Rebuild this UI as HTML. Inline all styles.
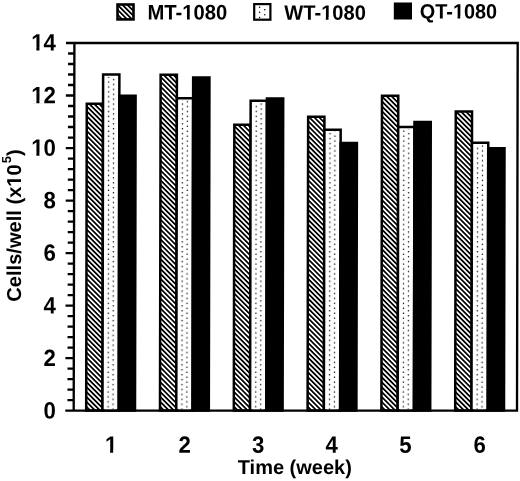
<!DOCTYPE html>
<html><head><meta charset="utf-8"><title>Cells/well chart</title>
<style>
html,body{margin:0;padding:0;background:#fff;}
body{width:520px;height:481px;overflow:hidden;}
svg{display:block;}
text{font-family:"Liberation Sans",Arial,Helvetica,sans-serif;font-weight:bold;fill:#000;text-rendering:geometricPrecision;}
.c{fill:#fff;}
</style></head><body>
<svg width="520" height="481" viewBox="0 0 520 481">
<defs>
<pattern id="hatch" patternUnits="userSpaceOnUse" width="20" height="3.4790" patternTransform="translate(0 4.15) rotate(45)">
<rect x="0" y="0" width="20" height="3.4790" fill="#fff"/>
<rect x="0" y="0" width="20" height="1.7395" fill="#000"/>
</pattern>
<pattern id="dots" patternUnits="userSpaceOnUse" width="9.840" height="4.920" x="105.640" y="203.770">
<rect x="0" y="0" width="9.840" height="4.920" fill="#fff"/>
<circle cx="2.460" cy="1.230" r="0.75" fill="#000"/>
<circle cx="7.380" cy="3.690" r="0.75" fill="#000"/>
</pattern>
</defs>
<rect x="0" y="0" width="520" height="481" fill="#fff"/>
<g transform="matrix(1 0 -0.0019 1 0.78 0)">
<rect x="86.20" y="103.69" width="16.27" height="306.91" fill="url(#hatch)" stroke="#000" stroke-width="2.5"/>
<rect x="102.47" y="74.51" width="16.27" height="336.09" fill="#fff" stroke="#000" stroke-width="2.5"/>
<rect x="105.07" y="76.71" width="11.07" height="332.69" fill="url(#dots)"/>
<rect x="118.73" y="95.81" width="16.27" height="314.79" fill="#000" stroke="#000" stroke-width="2.5"/>
<rect x="160.00" y="74.81" width="16.27" height="335.79" fill="url(#hatch)" stroke="#000" stroke-width="2.5"/>
<rect x="176.27" y="98.14" width="16.27" height="312.46" fill="#fff" stroke="#000" stroke-width="2.5"/>
<rect x="178.87" y="100.34" width="11.07" height="309.06" fill="url(#dots)"/>
<rect x="192.53" y="77.43" width="16.27" height="333.17" fill="#000" stroke="#000" stroke-width="2.5"/>
<rect x="233.80" y="124.70" width="16.27" height="285.90" fill="url(#hatch)" stroke="#000" stroke-width="2.5"/>
<rect x="250.07" y="100.77" width="16.27" height="309.83" fill="#fff" stroke="#000" stroke-width="2.5"/>
<rect x="252.67" y="102.97" width="11.07" height="306.43" fill="url(#dots)"/>
<rect x="266.33" y="98.44" width="16.27" height="312.16" fill="#000" stroke="#000" stroke-width="2.5"/>
<rect x="307.60" y="116.82" width="16.27" height="293.78" fill="url(#hatch)" stroke="#000" stroke-width="2.5"/>
<rect x="323.87" y="129.65" width="16.27" height="280.95" fill="#fff" stroke="#000" stroke-width="2.5"/>
<rect x="326.47" y="131.85" width="11.07" height="277.55" fill="url(#dots)"/>
<rect x="340.13" y="143.08" width="16.27" height="267.52" fill="#000" stroke="#000" stroke-width="2.5"/>
<rect x="381.40" y="95.81" width="16.27" height="314.79" fill="url(#hatch)" stroke="#000" stroke-width="2.5"/>
<rect x="397.67" y="127.02" width="16.27" height="283.58" fill="#fff" stroke="#000" stroke-width="2.5"/>
<rect x="400.27" y="129.22" width="11.07" height="280.18" fill="url(#dots)"/>
<rect x="413.93" y="122.07" width="16.27" height="288.53" fill="#000" stroke="#000" stroke-width="2.5"/>
<rect x="455.20" y="111.57" width="16.27" height="299.03" fill="url(#hatch)" stroke="#000" stroke-width="2.5"/>
<rect x="471.47" y="142.78" width="16.27" height="267.82" fill="#fff" stroke="#000" stroke-width="2.5"/>
<rect x="474.07" y="144.98" width="11.07" height="264.42" fill="url(#dots)"/>
<rect x="487.73" y="148.33" width="16.27" height="262.27" fill="#000" stroke="#000" stroke-width="2.5"/>
<path d="M65.3 43.0 H517.0 V410.6 H65.3 M73.7 43.0 V410.6" fill="none" stroke="#000" stroke-width="2.35"/>
<path d="M67.4 400.10H73.7 M67.4 389.59H73.7 M67.4 379.09H73.7 M67.4 368.59H73.7 M65.3 358.09H73.7 M67.4 347.58H73.7 M67.4 337.08H73.7 M67.4 326.58H73.7 M67.4 316.07H73.7 M65.3 305.57H73.7 M67.4 295.07H73.7 M67.4 284.57H73.7 M67.4 274.06H73.7 M67.4 263.56H73.7 M65.3 253.06H73.7 M67.4 242.55H73.7 M67.4 232.05H73.7 M67.4 221.55H73.7 M67.4 211.05H73.7 M65.3 200.54H73.7 M67.4 190.04H73.7 M67.4 179.54H73.7 M67.4 169.03H73.7 M67.4 158.53H73.7 M65.3 148.03H73.7 M67.4 137.53H73.7 M67.4 127.02H73.7 M67.4 116.52H73.7 M67.4 106.02H73.7 M65.3 95.51H73.7 M67.4 85.01H73.7 M67.4 74.51H73.7 M67.4 64.01H73.7 M67.4 53.50H73.7" fill="none" stroke="#000" stroke-width="2.3"/>
</g>
<rect x="117.5" y="4.5" width="16" height="14.9" fill="url(#hatch)" stroke="#000" stroke-width="2.6"/>
<rect x="254.2" y="4.1" width="16.2" height="15.6" fill="#fff" stroke="#000" stroke-width="2.2"/>
<g fill="#000"><circle cx="259.6" cy="7.3" r="0.75"/><circle cx="264.8" cy="9.85" r="0.75"/><circle cx="259.6" cy="12.3" r="0.75"/><circle cx="264.8" cy="14.8" r="0.75"/><circle cx="259.6" cy="17.4" r="0.75"/></g>
<rect x="393.8" y="2.5" width="18.2" height="17" fill="#000"/>
<g transform="translate(55.9 418.52) rotate(0.03) scale(0.945 1)"><text font-size="23.5" text-anchor="end">0</text></g>
<g transform="translate(55.9 365.96) rotate(0.03) scale(0.945 1)"><text font-size="23.5" text-anchor="end">2</text></g>
<g transform="translate(55.9 313.40) rotate(0.03) scale(0.945 1)"><text font-size="23.5" text-anchor="end">4</text></g>
<g transform="translate(55.9 260.84) rotate(0.03) scale(0.945 1)"><text font-size="23.5" text-anchor="end">6</text></g>
<g transform="translate(55.9 208.28) rotate(0.03) scale(0.945 1)"><text font-size="23.5" text-anchor="end">8</text></g>
<g transform="translate(55.9 155.72) rotate(0.03) scale(0.945 1)"><text font-size="23.5" text-anchor="end">10</text><rect class="c" x="-25.26" y="-3.00" width="4.60" height="3.60"/><rect class="c" x="-17.43" y="-3.00" width="4.31" height="3.60"/></g>
<g transform="translate(55.9 103.16) rotate(0.03) scale(0.945 1)"><text font-size="23.5" text-anchor="end">12</text><rect class="c" x="-25.26" y="-3.00" width="4.60" height="3.60"/><rect class="c" x="-17.43" y="-3.00" width="4.31" height="3.60"/></g>
<g transform="translate(55.9 50.60) rotate(0.03) scale(0.945 1)"><text font-size="23.5" text-anchor="end">14</text><rect class="c" x="-25.26" y="-3.00" width="4.60" height="3.60"/><rect class="c" x="-17.43" y="-3.00" width="4.31" height="3.60"/></g>
<g transform="translate(111.10 452.8) rotate(0.03) scale(0.945 1)"><text font-size="23.5" text-anchor="middle">1</text><rect class="c" x="-5.66" y="-3.00" width="4.60" height="3.60"/><rect class="c" x="2.17" y="-3.00" width="4.31" height="3.60"/></g>
<g transform="translate(184.60 452.8) rotate(0.03) scale(0.945 1)"><text font-size="23.5" text-anchor="middle">2</text></g>
<g transform="translate(258.10 452.8) rotate(0.03) scale(0.945 1)"><text font-size="23.5" text-anchor="middle">3</text></g>
<g transform="translate(331.60 452.8) rotate(0.03) scale(0.945 1)"><text font-size="23.5" text-anchor="middle">4</text></g>
<g transform="translate(405.40 452.8) rotate(0.03) scale(0.945 1)"><text font-size="23.5" text-anchor="middle">5</text></g>
<g transform="translate(479.60 452.8) rotate(0.03) scale(0.945 1)"><text font-size="23.5" text-anchor="middle">6</text></g>
<g transform="translate(294.8 473.7)"><text font-size="20" text-anchor="middle">Time (week)</text></g>
<g transform="translate(21 225.5) rotate(-90)"><text font-size="20.1" text-anchor="middle">Cells/well (x10<tspan font-size="13" dx="1" dy="-10">5</tspan><tspan dy="10">)</tspan></text><rect class="c" x="39.52" y="-2.65" width="4.03" height="3.25"/><rect class="c" x="46.30" y="-2.65" width="3.77" height="3.25"/></g>
<g transform="translate(147.5 19.4) rotate(0.03) scale(0.962 1)"><text font-size="21" text-anchor="start">MT-1080</text><rect class="c" x="36.86" y="-2.74" width="4.18" height="3.34"/><rect class="c" x="43.92" y="-2.74" width="3.91" height="3.34"/></g>
<g transform="translate(284.3 19.8) rotate(0.03) scale(0.962 1)"><text font-size="20.9" text-anchor="start">WT-1080</text><rect class="c" x="39.00" y="-2.73" width="4.16" height="3.33"/><rect class="c" x="46.03" y="-2.73" width="3.90" height="3.33"/></g>
<g transform="translate(419.8 18.4) rotate(0.03) scale(0.962 1)"><text font-size="20.65" text-anchor="start">QT-1080</text><rect class="c" x="35.09" y="-2.71" width="4.12" height="3.31"/><rect class="c" x="42.04" y="-2.71" width="3.86" height="3.31"/></g>
</svg>
</body></html>
